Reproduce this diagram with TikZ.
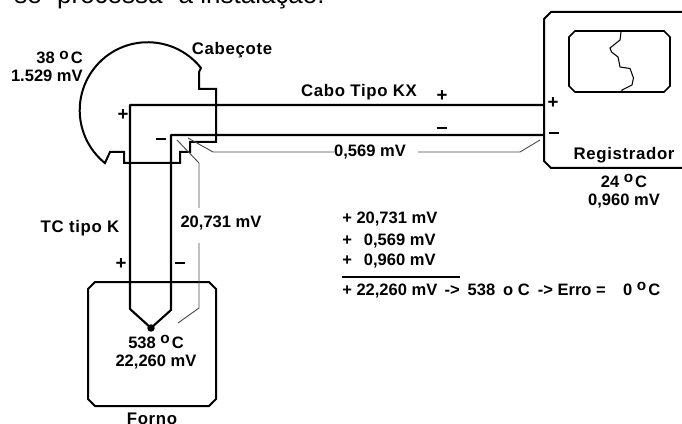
\documentclass[tikz,border=0pt]{standalone}
\usepackage{fontspec}
\setmainfont{Liberation Sans}
\newfontfamily\labf{Liberation Sans Bold}
\newfontfamily\labw[LetterSpace=4]{Liberation Sans Bold}
\newcommand{\degs}[1]{\raisebox{0.55ex}{\fontsize{11.5}{11.5}\selectfont\labf o}\hspace{1.5pt}#1}
\newcommand{\mns}{\rule[0.25ex]{8pt}{1.6pt}}
\tikzset{
  heavy/.style={draw=black,line width=1.5pt,line join=miter},
  wire/.style={draw=black,line width=1.6pt,line join=round},
  thinl/.style={draw=black!70,line width=0.7pt},
  lab/.style={font=\fontsize{12.4}{13.5}\labf,inner sep=0,align=center},
  wlab/.style={font=\fontsize{12.6}{13.5}\labw,inner sep=0,align=center},
  llab/.style={lab,anchor=base west},
  sgn/.style={font=\fontsize{14}{14}\bfseries,inner sep=0},
}
\begin{document}
\begin{tikzpicture}[x=0.75pt,y=-0.75pt]
\useasboundingbox (0,0) rectangle (682,424);
\begin{scope}
\clip (0,0) rectangle (682,424);
\fill[white] (0,0) rectangle (682,424);
\node[anchor=base west,inner sep=0,font=\fontsize{19.5}{22}\selectfont] (top) at (14,3.5) {se\hspace{11.6pt}processa\hspace{12pt}a instalação:};

% Cabecote outline
\draw[heavy] (201,68) arc[start angle=-38.4,end angle=-231,radius=68] coordinate (hc)
  -- (110,152) -- (124,152) -- (124,163) -- (180,163) -- (180,152) -- (190,152) -- (190,142)
  -- (216,142) -- (216,89) -- (199,89) -- (199,72) -- cycle;

% Registrador
\draw[heavy] (690,12) -- (551,12) -- (544,19) -- (544,161) -- (551,168) -- (690,168);
\coordinate (regp) at (544,105);
\coordinate (regn) at (544,135);
\draw[heavy,line width=1.3pt] (575,31) -- (664,31) -- (670,37) -- (670,86) -- (664,92) -- (575,92) -- (569,86) -- (569,37) -- cycle;
\draw[black,line width=0.8pt] (621,32) -- (620,40) -- (610,48) -- (611.5,52) -- (618,57) -- (620,67) -- (630,68.5) -- (633.5,78) -- (632,85) -- (622,90) -- (622,92);

% Forno
\draw[heavy] (95,282) -- (209,282) -- (216,289) -- (216,399) -- (209,406) -- (95,406) -- (88,399) -- (88,289) -- cycle;

% Thermocouple junction and wires
\node[circle,fill=black,inner sep=0,minimum size=5.6pt] (junc) at (151,328) {};
\coordinate (pc) at (130,105);
\coordinate (nc) at (171,135);
\draw[wire] (regp) -- (pc) -- (130,309) -- (junc.center);
\draw[wire] (regn) -- (nc) -- (171,310) -- (junc.center);

% Labels
\node[wlab] (cab) at (232,50) {Cabeçote};
\node[lab,anchor=east,align=right] (hcl) at (83,66.5) {38 \degs{C}\\1.529 mV};
\node[wlab] (kx) at (359,92) {Cabo Tipo KX};
\node[sgn] at (442,96) {+};
\node[sgn] at (123,115) {+};
\node[sgn] at (161,140) {\mns};
\node[sgn] at (442,129) {\mns};
\node[sgn] at (553,103) {+};
\node[sgn] at (554,134) {\mns};
\node[lab] (m569) at (370,152) {0,569 mV};
\node[wlab] (reg) at (624,155) {Registrador};
\node[lab] (regt) at (624,191) {24 \degs{C}\\0,960 mV};
\node[wlab] (tc) at (80,228) {TC tipo K};
\node[sgn] at (121,264) {+};
\node[sgn] at (180,264) {\mns};
\node[lab] (m20) at (221,223) {20,731 mV};
\node[lab] (fort) at (156,352) {538 \degs{C}\\22,260 mV};
\node[wlab] (forno) at (152,419) {Forno};
\node[llab] (s1) at (342,223.5) {+ 20,731 mV};
\node[llab] (s2) at (342,245) {+\hspace{5.5pt} 0,569 mV};
\node[llab] (s3) at (342,266) {+\hspace{5.5pt} 0,960 mV};
\draw[draw=black,line width=0.9pt] (342,277) -- (460,277);
\node[llab] (s4) at (342,295.5) {+ 22,260 mV\hspace{2pt} ->\hspace{2.5pt} 538\hspace{2.5pt} o C\hspace{2.5pt} -> Erro =\hspace{13pt}0 \degs{C}};

% Measurement lines
\draw[thinl] (177,140) -- (199,163) -- (199,208);
\draw[thinl] (199,243) -- (199,308) -- (178,323);
\draw[thinl] (188,138) -- (213,152) -- (m569.west);
\draw[thinl] (418,152) -- (520,152) -- (540,140);
\end{scope}
\end{tikzpicture}
\end{document}
